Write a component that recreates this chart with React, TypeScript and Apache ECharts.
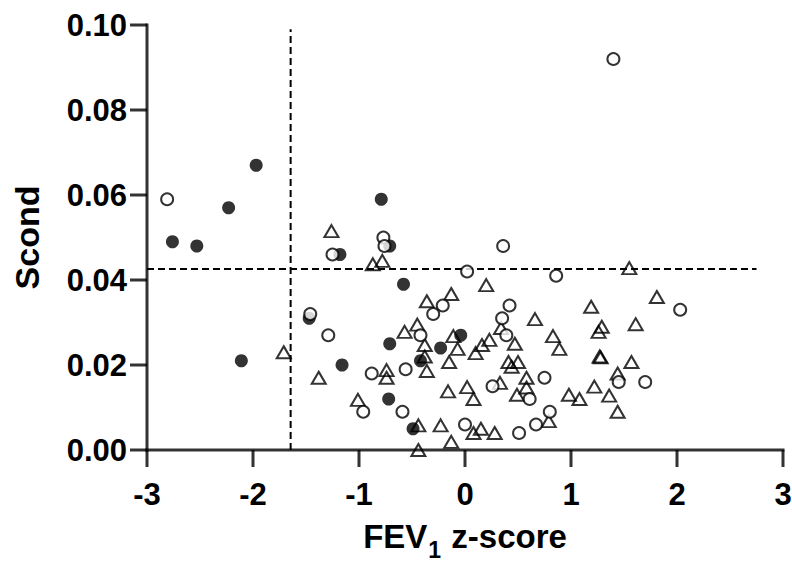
import React, { useEffect, useRef } from "react";
import * as echarts from "echarts";

// FEV1 z-score vs Scond, three subject groups
const filledCircles: [number, number][] = [
  [-2.76, 0.049], [-2.53, 0.048], [-2.23, 0.057], [-1.97, 0.067], [-2.11, 0.021],
  [-0.79, 0.059], [-1.18, 0.046], [-0.71, 0.048], [-0.58, 0.039], [-1.47, 0.031],
  [-0.71, 0.025], [-1.16, 0.02], [-0.72, 0.012], [-0.49, 0.005], [-0.42, 0.021],
  [-0.23, 0.024], [-0.04, 0.027],
];

const openCircles: [number, number][] = [
  [-2.81, 0.059], [1.4, 0.092], [-1.25, 0.046], [-0.77, 0.05], [-0.76, 0.048],
  [0.02, 0.042], [0.36, 0.048], [0.86, 0.041], [2.03, 0.033], [-1.46, 0.032],
  [-1.29, 0.027], [-0.88, 0.018], [-0.56, 0.019], [-0.96, 0.009], [-0.59, 0.009],
  [-0.42, 0.027], [-0.21, 0.034], [-0.3, 0.032], [0.42, 0.034], [0.35, 0.031],
  [0.39, 0.027], [0.26, 0.015], [0.61, 0.012], [0.0, 0.006], [0.51, 0.004],
  [0.67, 0.006], [0.8, 0.009], [0.75, 0.017], [1.45, 0.016], [1.7, 0.016],
];

const triangles: [number, number][] = [
  [-1.71, 0.023], [-1.26, 0.0515], [-0.87, 0.0437], [-0.78, 0.0445], [-1.38, 0.017],
  [-1.01, 0.0118], [-0.74, 0.0188], [-0.74, 0.017], [-0.57, 0.0278], [-0.45, 0.0295],
  [-0.38, 0.0247], [-0.38, 0.022], [-0.36, 0.0186], [-0.44, 0.0], [-0.44, 0.0058],
  [-0.36, 0.035], [-0.13, 0.0367], [-0.11, 0.0268], [-0.07, 0.0238], [-0.15, 0.0207],
  [-0.16, 0.0138], [-0.23, 0.0058], [-0.13, 0.0019], [0.02, 0.0148], [0.08, 0.012],
  [0.08, 0.004], [0.15, 0.005], [0.28, 0.004], [0.2, 0.0388], [0.1, 0.0228],
  [0.16, 0.0247], [0.23, 0.0259], [0.33, 0.0158], [0.47, 0.025], [0.41, 0.0207],
  [0.44, 0.0196], [0.5, 0.0207], [0.58, 0.017], [0.58, 0.0147], [0.49, 0.013],
  [0.66, 0.0308], [0.34, 0.0287], [0.83, 0.0268], [0.89, 0.0238], [1.19, 0.0337],
  [1.29, 0.029], [1.26, 0.0278], [1.27, 0.022], [1.28, 0.0218], [1.55, 0.0428],
  [1.61, 0.0296], [1.81, 0.036], [1.57, 0.0207], [1.44, 0.018], [1.22, 0.0149],
  [1.36, 0.0128], [1.44, 0.009], [0.98, 0.013], [1.08, 0.012], [0.79, 0.0068],
];

// reference thresholds
const zCutoff = -1.645;
const scondCutoff = 0.0426;
const verticalCutLine: [number, number][] = [[zCutoff, 0], [zCutoff, 0.099]];
const horizontalCutLine: [number, number][] = [[-3, scondCutoff], [2.75, scondCutoff]];

const xTicks = [-3, -2, -1, 0, 1, 2, 3];
const yTicks = [0, 0.02, 0.04, 0.06, 0.08, 0.1];

const FONT = "'Liberation Sans', Arial, sans-serif";
const TICK_LEN = 17;
const AXIS_W = 3;

// chart layout
const W = 792;
const H = 561;
const GRID = { left: 147, right: 9, top: 25, bottom: 111 };

export default function App() {
  const ref = useRef<HTMLDivElement>(null);

  useEffect(() => {
    if (!ref.current) return;
    const chart = echarts.init(ref.current, undefined, { renderer: "svg" });

    const xMin = xTicks[0];
    const xMax = xTicks[xTicks.length - 1];
    const yMin = yTicks[0];
    const yMax = yTicks[yTicks.length - 1];
    const plotW = W - GRID.left - GRID.right;
    const plotH = H - GRID.top - GRID.bottom;

    const dashed = (data: [number, number][]) => ({
      type: "line" as const,
      data,
      symbol: "none",
      silent: true,
      lineStyle: { color: "#000", width: 2, type: [7, 4] as number[] },
      z: 1,
    });

    // axis frame pieces drawn as rectangular marks anchored on the axes
    const bar = (
      data: [number, number][],
      size: [number, number],
      offset: [number, number],
    ) => ({
      type: "scatter" as const,
      data,
      symbol: "rect",
      symbolSize: size,
      symbolOffset: offset,
      clip: false,
      silent: true,
      itemStyle: { color: "#000", borderWidth: 0 },
      z: 6,
    });

    const frame = [
      // x axis line
      bar([[(xMin + xMax) / 2, yMin]], [plotW + AXIS_W, AXIS_W], [0, 0]),
      // y axis line
      bar([[xMin, (yMin + yMax) / 2]], [AXIS_W, plotH + AXIS_W], [0, 0]),
      // x ticks (outward, below)
      bar(xTicks.map((v) => [v, yMin] as [number, number]), [AXIS_W, TICK_LEN], [0, TICK_LEN / 2]),
      // y ticks (outward, left)
      bar(yTicks.map((v) => [xMin, v] as [number, number]), [TICK_LEN, AXIS_W], [-TICK_LEN / 2, 0]),
    ];

    chart.setOption({
      animation: false,
      grid: { ...GRID, outerBoundsMode: "none", containLabel: false },
      xAxis: {
        type: "value",
        min: xMin,
        max: xMax,
        interval: 1,
        axisLine: { show: false, onZero: false },
        axisTick: { show: false },
        splitLine: { show: false },
        axisLabel: {
          color: "#000",
          fontFamily: FONT,
          fontWeight: "bold",
          fontSize: 31,
          margin: 29,
          formatter: (v: number) => String(v),
        },
        name: "{a|FEV}{sub|1}{a| z-score}",
        nameLocation: "middle",
        nameGap: 70,
        nameTextStyle: {
          color: "#000",
          fontFamily: FONT,
          fontWeight: "bold",
          fontSize: 33,
          rich: {
            a: {
              fontFamily: FONT,
              fontWeight: "bold",
              fontSize: 33,
              lineHeight: 33,
              color: "#000",
              verticalAlign: "top",
            },
            sub: {
              fontFamily: FONT,
              fontWeight: "bold",
              fontSize: 23,
              lineHeight: 41,
              color: "#000",
              verticalAlign: "bottom",
              padding: [0, 1, 0, 1],
            },
          },
        },
      },
      yAxis: {
        type: "value",
        min: yMin,
        max: yMax,
        interval: 0.02,
        axisLine: { show: false, onZero: false },
        axisTick: { show: false },
        splitLine: { show: false },
        axisLabel: {
          color: "#000",
          fontFamily: FONT,
          fontWeight: "bold",
          fontSize: 31,
          margin: 20,
          formatter: (v: number) => v.toFixed(2),
        },
        name: "Scond",
        nameLocation: "middle",
        nameGap: 103,
        nameRotate: 90,
        nameTextStyle: {
          color: "#000",
          fontFamily: FONT,
          fontWeight: "bold",
          fontSize: 34,
        },
      },
      series: [
        dashed(verticalCutLine),
        dashed(horizontalCutLine),
        {
          type: "scatter",
          data: triangles,
          symbol: "triangle",
          symbolSize: [14, 12],
          itemStyle: { color: "transparent", borderColor: "#000", borderWidth: 2 },
          z: 2,
        },
        {
          type: "scatter",
          data: filledCircles,
          symbol: "circle",
          symbolSize: 13,
          itemStyle: { color: "#000", borderColor: "#000", borderWidth: 0 },
          z: 3,
        },
        {
          type: "scatter",
          data: openCircles,
          symbol: "circle",
          symbolSize: 12,
          itemStyle: { color: "#fff", borderColor: "#000", borderWidth: 2 },
          z: 4,
        },
        ...frame,
      ],
    });

    return () => chart.dispose();
  }, []);

  return <div ref={ref} style={{ width: W, height: H, position: "absolute", left: 0, top: 0 }} />;
}
